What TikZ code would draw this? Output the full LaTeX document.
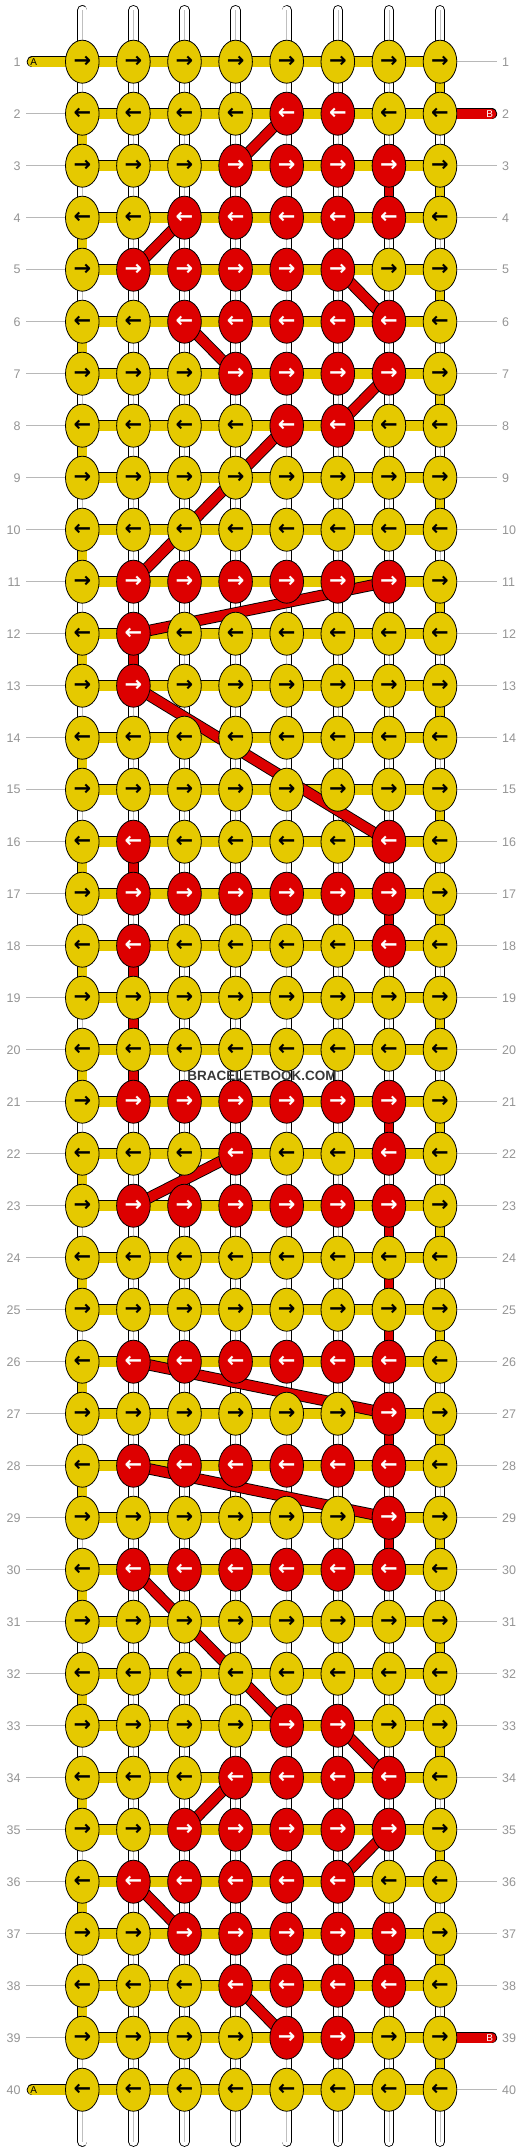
\documentclass[tikz,border=0pt]{standalone}
\usepackage{fontspec}
\setmainfont{Liberation Sans}
\newfontfamily\arrowfont{DejaVu Sans}
\usetikzlibrary{shapes.geometric,backgrounds}
\definecolor{knotyellow}{RGB}{229,201,0}
\definecolor{knotred}{RGB}{221,0,0}
\newcommand\redknots{2/{5,6},3/{4,5,6,7},4/{3,4,5,6,7},5/{2,3,4,5,6},6/{3,4,5,6,7},7/{4,5,6,7},8/{5,6},11/{2,...,7},12/{2},13/{2},16/{2,7},17/{2,...,7},18/{2,7},21/{2,...,7},22/{4,7},23/{2,...,7},26/{2,...,7},27/{7},28/{2,...,7},29/{7},30/{2,...,7},33/{5,6},34/{4,5,6,7},35/{3,4,5,6,7},36/{2,3,4,5,6},37/{3,...,7},38/{4,5,6,7},39/{5,6}}
\tikzset{
  knot/.style={ellipse, draw, line width=0.8pt, minimum width=33.6pt, minimum height=43pt, inner sep=0pt,
    font=\arrowfont\bfseries\fontsize{21}{21}\selectfont},
  warp/.style={line width=0.9pt, double=white, double distance=8.5pt, line cap=round},
  warpshade/.style={line width=0.5pt, draw=black!25},
  vpiece/.style={line width=0.9pt, double=#1, double distance=8.5pt},
  weft/.style={line width=0.9pt, double=#1, double distance=9.6pt},
  rowline/.style={draw=black!28, line width=0.8pt},
  rowlabel/.style={font=\fontsize{12.5}{12.5}\selectfont, text=black!42, inner sep=0pt}
}
\begin{document}
\begin{tikzpicture}[x=1pt,y=-1pt]
  \useasboundingbox (0,0) rectangle (532,2152);
  \foreach \r/\cl in \redknots {\foreach \c in \cl {\expandafter\gdef\csname red-\r-\c\endcsname{}}}
  \foreach \r in {1,...,40} {
    \pgfmathsetmacro\yy{61.7+(\r-1)*52}
    \ifodd\r \def\arr{→}\else\def\arr{←}\fi
    \foreach \c in {1,...,8} {
      \pgfmathsetmacro\xx{82.3+(\c-1)*51.1}
      \ifcsname red-\r-\c\endcsname \def\kfill{knotred}\def\ktext{white}\else\def\kfill{knotyellow}\def\ktext{black}\fi
      \node (k-\r-\c) at (\xx,\yy) [knot, fill=\kfill, text=\ktext] {\arr};
    }
    \node (lab-l-\r) at (20.7,\yy) [rowlabel, anchor=east] {\r};
    \node (lab-r-\r) at (502,\yy) [rowlabel, anchor=west] {\r};
  }
  \node (wm) at (262,1076) [font=\bfseries\fontsize{13.5}{13.5}\selectfont, text=black!78] {BRACELETBOOK.COM};
  \node (lab-a) at (33.7,61.7) [font=\fontsize{10}{10}\selectfont, inner sep=0pt] {A};
  \node (lab-b) at (489.7,113.7) [font=\fontsize{10}{10}\selectfont, inner sep=0pt, text=white] {B};
  \node (lab-a2) at (33.7,2089.7) [font=\fontsize{10}{10}\selectfont, inner sep=0pt] {A};
  \node (lab-b2) at (489.7,2037.7) [font=\fontsize{10}{10}\selectfont, inner sep=0pt, text=white] {B};
  \begin{pgfonlayer}{background}
    \foreach \r in {2,...,39} {
      \pgfmathsetmacro\yy{61.7+(\r-1)*52}
      \coordinate (gl-\r) at (26,\yy);
      \draw[rowline] (gl-\r) -- (k-\r-1);
    }
    \foreach \r in {1,3,4,...,38,40} {
      \pgfmathsetmacro\yy{61.7+(\r-1)*52}
      \coordinate (gr-\r) at (497,\yy);
      \draw[rowline] (k-\r-8) -- (gr-\r);
    }
    \foreach \c in {1,...,8} {
      \pgfmathsetmacro\xx{82.3+(\c-1)*51.1}
      \coordinate (top-\c) at (\xx,10.2);
      \coordinate (bot-\c) at (\xx,2141.7);
      \draw[warp] (top-\c) -- (bot-\c);
      \draw[warpshade] (top-\c) -- (bot-\c);
    }
    \foreach \r in {1,...,39} {
      \pgfmathtruncatemacro\rn{\r+1}
      \ifodd\r \def\c{8}\else\def\c{1}\fi
      \draw[vpiece=knotyellow] (k-\r-\c.center) -- (k-\rn-\c.center);
    }
    \foreach \r/\c in {3/7,12/2,16/2,17/7,18/2,19/2,20/2,21/7,23/7,24/7,25/7,27/7,29/7,37/7} {
      \pgfmathtruncatemacro\rn{\r+1}
      \draw[vpiece=knotred] (k-\r-\c.center) -- (k-\rn-\c.center);
    }
    \foreach \r in {1,...,40}
      \draw[weft=knotyellow] (k-\r-1.center) -- (k-\r-8.center);
    \coordinate (a-in) at (32.4,61.7);
    \coordinate (a-out) at (32.4,2089.7);
    \coordinate (b-in) at (491.5,113.7);
    \coordinate (b-out) at (491.5,2037.7);
    \draw[weft=knotyellow, line cap=round] (a-in) -- (k-1-1.center);
    \draw[weft=knotyellow, line cap=round] (a-out) -- (k-40-1.center);
    \draw[weft=knotred, line cap=round] (k-2-8.center) -- (b-in);
    \draw[weft=knotred, line cap=round] (k-39-8.center) -- (b-out);
    \foreach \ra/\ca/\rb/\cb in {2/5/3/4,4/3/5/2,5/6/6/7,6/3/7/4,7/7/8/6,8/5/11/2,11/7/12/2,13/2/16/7,22/4/23/2,26/2/27/7,28/2/29/7,30/2/33/5,33/6/34/7,34/4/35/3,35/7/36/6,36/2/37/3,38/4/39/5}
      \draw[weft=knotred] (k-\ra-\ca.center) -- (k-\rb-\cb.center);
  \end{pgfonlayer}
\end{tikzpicture}
\end{document}
